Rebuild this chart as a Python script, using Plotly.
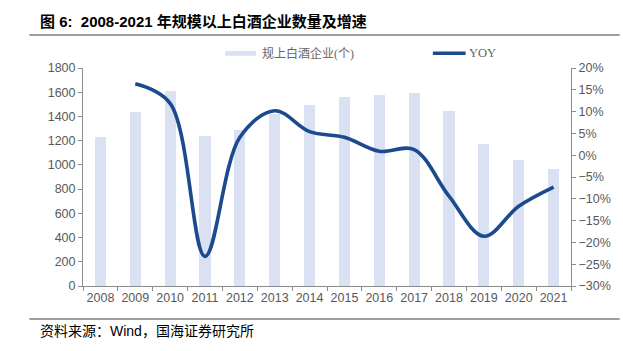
import plotly.graph_objects as go

years = ["2008", "2009", "2010", "2011", "2012", "2013", "2014",
         "2015", "2016", "2017", "2018", "2019", "2020", "2021"]
companies = [1233, 1437, 1607, 1239, 1290, 1420, 1496,
             1563, 1578, 1593, 1445, 1176, 1040, 965]
yoy = [None, 16.4, 11.9, -23.2, 4.1, 10.2, 5.4,
       4.1, 0.9, 1.3, -9.4, -18.6, -11.7, -7.3]
bar_name = "规上白酒企业(个)"
line_name = "YOY"

W, H = 623, 351
L, R, T, B = 83, 49, 68, 65
pw, ph = W - L - R, H - T - B

def px_x(x):
    return (x - L) / pw

def px_y(y):
    return (H - B - y) / ph

bar_col = "#dae1f2"
line_col = "#1c4a8f"
tick_font = dict(family="Liberation Sans, Arial, sans-serif", size=12.5, color="#595959")
axis_col = "#8c8c8c"

fig = go.Figure()
fig.add_trace(go.Bar(
    x=years, y=companies, name=bar_name,
    marker=dict(color=bar_col, line=dict(width=0)),
    width=0.32, yaxis="y", showlegend=False,
))
fig.add_trace(go.Scatter(
    x=years, y=yoy, name=line_name, mode="lines",
    line=dict(color=line_col, width=3.6, shape="spline", smoothing=1.0),
    yaxis="y2", showlegend=False,
))

fig.update_layout(
    width=W, height=H, autosize=False,
    margin=dict(l=L, r=R, t=T, b=B),
    paper_bgcolor="white", plot_bgcolor="white",
    showlegend=False,
    xaxis=dict(
        type="category", range=[-0.5, 13.5], showgrid=False,
        showline=True, linecolor=axis_col, linewidth=1,
        ticks="outside", tickson="boundaries", ticklen=4, tickcolor=axis_col,
        tickfont=tick_font, tickangle=0,
    ),
    yaxis=dict(
        range=[0, 1800], dtick=200, showgrid=False, zeroline=False,
        showline=True, linecolor=axis_col, linewidth=1,
        ticks="outside", ticklen=4, tickcolor=axis_col,
        tickfont=tick_font,
    ),
    yaxis2=dict(
        range=[-30, 20], dtick=5, overlaying="y", side="right",
        showgrid=False, zeroline=False, ticksuffix="%",
        showline=True, linecolor=axis_col, linewidth=1,
        ticks="outside", ticklen=4, tickcolor=axis_col,
        tickfont=tick_font,
    ),
    bargap=0.0,
)

# Custom legend (flat swatches like the original)
leg_y = px_y(53.3)
fig.add_shape(type="rect", xref="paper", yref="paper",
              x0=px_x(226), x1=px_x(257), y0=px_y(55.8), y1=px_y(51),
              fillcolor=bar_col, line=dict(width=0))
fig.add_annotation(text=bar_name, xref="paper", yref="paper",
                   x=px_x(261), y=leg_y, xanchor="left", yanchor="middle",
                   showarrow=False,
                   font=dict(family="Liberation Serif, Noto Sans CJK SC, serif", size=12, color="#666666"))
fig.add_shape(type="line", xref="paper", yref="paper",
              x0=px_x(435), x1=px_x(468), y0=leg_y, y1=leg_y,
              line=dict(color=line_col, width=3.6))
fig.add_annotation(text=line_name, xref="paper", yref="paper",
                   x=px_x(469), y=leg_y, xanchor="left", yanchor="middle",
                   showarrow=False,
                   font=dict(family="Liberation Serif, serif", size=12.5, color="#666666"))

# Title and source text
fig.add_annotation(
    text="<b>图 6:  2008-2021 年规模以上白酒企业数量及增速</b>",
    xref="paper", yref="paper", x=px_x(38), y=px_y(22),
    xanchor="left", yanchor="middle", showarrow=False,
    font=dict(family="Liberation Sans, Noto Sans CJK SC, sans-serif", size=15, color="#000000"),
)
fig.add_annotation(
    text="资料来源：Wind，国海证券研究所",
    xref="paper", yref="paper", x=px_x(38), y=px_y(331),
    xanchor="left", yanchor="middle", showarrow=False,
    font=dict(family="Liberation Sans, Noto Sans CJK SC, sans-serif", size=14, color="#000000"),
)
# Horizontal rules
for yy in [35, 319]:
    fig.add_shape(type="line", xref="paper", yref="paper",
                  x0=px_x(29), x1=px_x(623), y0=px_y(yy), y1=px_y(yy),
                  line=dict(color="#7f7f7f", width=1.3))

fig.write_html("out.html")
